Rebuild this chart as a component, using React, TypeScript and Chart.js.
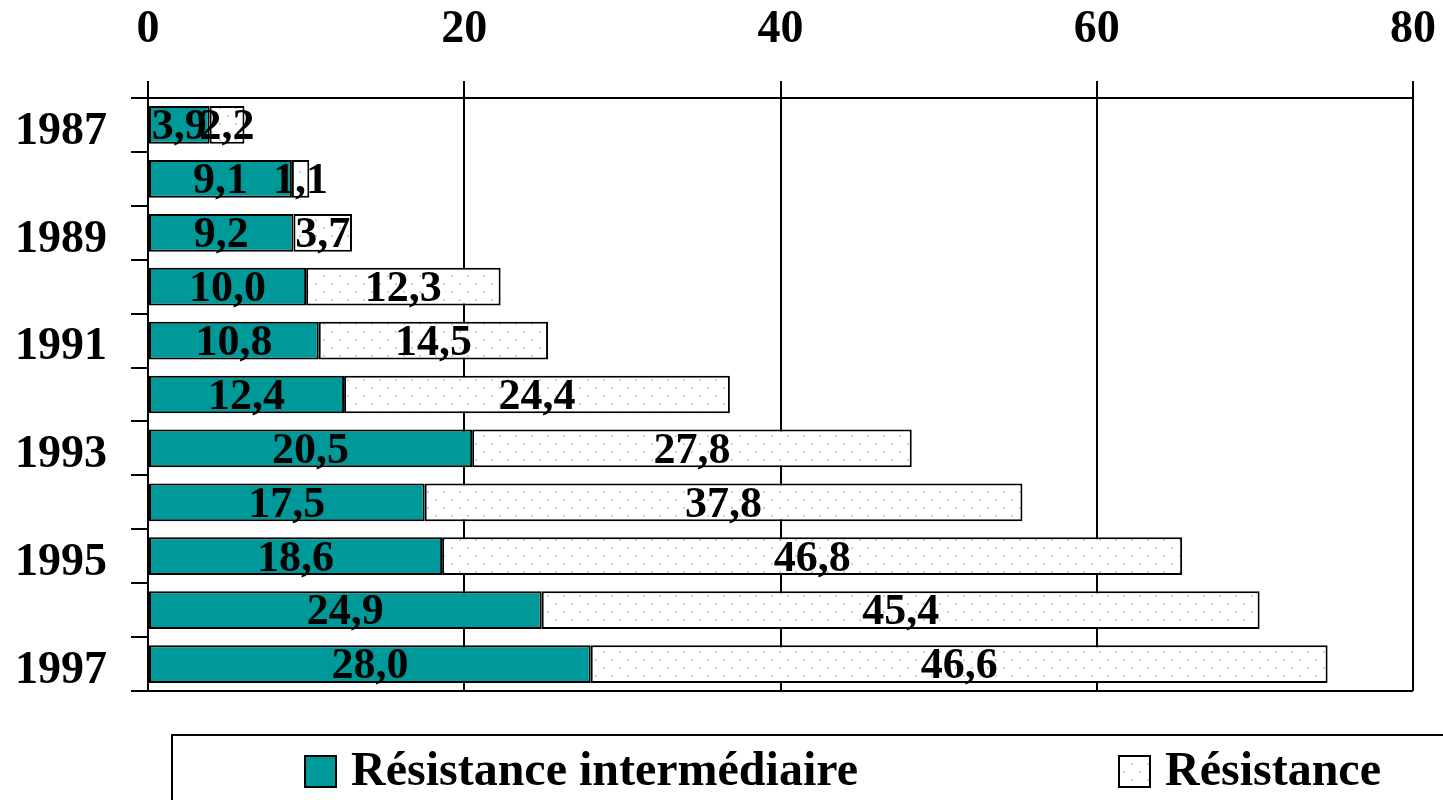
import React, { useEffect, useRef } from "react";
import { Chart, registerables } from "chart.js";

Chart.register(...registerables);

const years = ["1987", "1988", "1989", "1990", "1991", "1992", "1993", "1994", "1995", "1996", "1997"];
const intermediateValues = [3.9, 9.1, 9.2, 10.0, 10.8, 12.4, 20.5, 17.5, 18.6, 24.9, 28.0];
const resistanceValues = [2.2, 1.1, 3.7, 12.3, 14.5, 24.4, 27.8, 37.8, 46.8, 45.4, 46.6];
const seriesLabels = ["Résistance intermédiaire", "Résistance"];
const xTickValues = [0, 20, 40, 60, 80];

const TEAL = "#009999";
const FONT_FAMILY = "'Liberation Serif', 'Times New Roman', serif";

function makeDotPattern(): CanvasPattern | string {
  const c = document.createElement("canvas");
  c.width = 16;
  c.height = 16;
  const g = c.getContext("2d");
  if (!g) return "#ffffff";
  g.fillStyle = "#ffffff";
  g.fillRect(0, 0, 16, 16);
  g.fillStyle = "#b0dcdc";
  g.fillRect(3, 3, 2, 2);
  g.fillRect(11, 11, 2, 2);
  const p = g.createPattern(c, "repeat");
  return p || "#ffffff";
}

const fmt = (v: number) => v.toFixed(1).replace(".", ",");

export default function App() {
  const canvasRef = useRef<HTMLCanvasElement | null>(null);

  useEffect(() => {
    document.body.style.margin = "0";
    document.body.style.overflow = "hidden";
    const canvas = canvasRef.current;
    if (!canvas) return;
    const pattern = makeDotPattern();

    const dataLabelPlugin = {
      id: "dataLabels",
      afterDatasetsDraw(chart: any) {
        const ctx = chart.ctx;
        ctx.save();
        ctx.font = `bold 44px ${FONT_FAMILY}`;
        ctx.fillStyle = "#000";
        ctx.textAlign = "center";
        ctx.textBaseline = "middle";
        chart.data.datasets.forEach((ds: any, i: number) => {
          const meta = chart.getDatasetMeta(i);
          meta.data.forEach((bar: any, j: number) => {
            const p = bar.getProps(["x", "y", "base"], true);
            const cx = (p.x + p.base) / 2;
            ctx.fillText(fmt(ds.data[j]), cx, p.y + 3);
          });
        });
        ctx.restore();
      },
    };

    const legendPlugin = {
      id: "boxLegend",
      afterDraw(chart: any) {
        const ctx = chart.ctx;
        ctx.save();
        ctx.lineWidth = 2;
        ctx.strokeStyle = "#000";
        ctx.strokeRect(172, 735, chart.width, 200);
        const items = [
          { x: 305, fill: TEAL, label: chart.data.datasets[0].label },
          { x: 1119, fill: pattern, label: chart.data.datasets[1].label },
        ];
        items.forEach((it) => {
          ctx.fillStyle = it.fill;
          ctx.fillRect(it.x, 756, 31, 31);
          ctx.strokeRect(it.x, 756, 31, 31);
          ctx.fillStyle = "#000";
          ctx.font = `bold 48px ${FONT_FAMILY}`;
          ctx.textAlign = "left";
          ctx.textBaseline = "middle";
          ctx.fillText(it.label, it.x + 46, 773);
        });
        ctx.restore();
      },
    };

    const chart = new Chart(canvas, {
      type: "bar",
      data: {
        labels: years,
        datasets: [
          {
            label: seriesLabels[0],
            data: intermediateValues,
            backgroundColor: TEAL,
            borderColor: "#000",
            borderWidth: 2,
            borderSkipped: false,
            barPercentage: 0.7,
            categoryPercentage: 1,
          },
          {
            label: seriesLabels[1],
            data: resistanceValues,
            backgroundColor: pattern as any,
            borderColor: "#000",
            borderWidth: 2,
            borderSkipped: false,
            barPercentage: 0.7,
            categoryPercentage: 1,
          },
        ],
      },
      options: {
        indexAxis: "y",
        responsive: false,
        animation: false,
        layout: { padding: { left: 0, right: 30, top: 0, bottom: 109 } },
        plugins: {
          legend: { display: false },
          tooltip: { enabled: false },
        },
        scales: {
          x: {
            type: "linear",
            position: "top",
            stacked: true,
            min: 0,
            max: 80,
            afterBuildTicks: (axis: any) => {
              axis.ticks = xTickValues.map((v) => ({ value: v }));
            },
            afterFit: (scale: any) => {
              scale.height = 98;
              scale.paddingLeft = 0;
              scale.paddingRight = 0;
            },
            ticks: {
              color: "#000",
              font: { family: FONT_FAMILY, size: 46, weight: "bold" },
              padding: 23,
              maxRotation: 0,
            },
            grid: {
              color: "#000",
              lineWidth: 2,
              tickLength: 17,
              drawOnChartArea: true,
            },
            border: { display: true, color: "#000", width: 2 },
          },
          y: {
            type: "category",
            stacked: true,
            offset: true,
            afterFit: (scale: any) => {
              scale.width = 148;
              scale.paddingTop = 0;
              scale.paddingBottom = 0;
            },
            ticks: {
              autoSkip: false,
              color: "#000",
              font: { family: FONT_FAMILY, size: 46, weight: "bold" },
              padding: 24,
              labelOffset: 7,
              callback: (_v: any, i: number) => (i % 2 === 0 ? years[i] : ""),
            },
            grid: {
              offset: true,
              lineWidth: 2,
              tickLength: 17,
              tickColor: "#000",
              color: (ctx: any) =>
                ctx.type !== "tick" || ctx.index === 0 ? "#000" : "rgba(0,0,0,0)",
            },
            border: { display: true, color: "#000", width: 2 },
          },
        },
      },
      plugins: [dataLabelPlugin, legendPlugin],
    });

    return () => chart.destroy();
  }, []);

  return (
    <div style={{ width: 1443, height: 800, overflow: "hidden", background: "#fff" }}>
      <canvas ref={canvasRef} width={1443} height={800} style={{ display: "block" }} />
    </div>
  );
}
